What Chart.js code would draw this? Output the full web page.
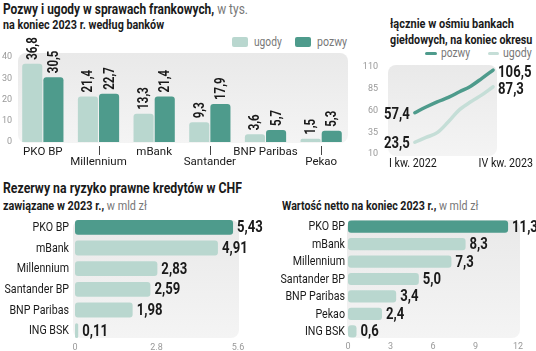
<!DOCTYPE html>
<html>
<head>
<meta charset="utf-8">
<script src="https://cdn.jsdelivr.net/npm/chart.js@4.4.1/dist/chart.umd.min.js"></script>
<style>
  body { margin: 0; width: 536px; height: 351px; background: #fff; position: relative; overflow: hidden;
         font-family: Roboto, 'DejaVu Sans', sans-serif; color: #1a1a1a; }
  .t { position: absolute; white-space: nowrap; font-weight: bold; line-height: 1; transform-origin: 0 50%; }
  .n { font-weight: normal; color: #777; }
  .lg { font-weight: normal; font-size: 12px; color: #777; }
  .sw { position: absolute; border-radius: 2px; }
  canvas { position: absolute; }
</style>
</head>
<body>
<div class="t" data-w="245" style="left:3px;top:3px;font-size:14.5px">Pozwy i ugody w sprawach frankowych,<span class="n"> w tys.</span></div>
<div class="t" data-w="161" style="left:3px;top:19px;font-size:12.5px">na koniec 2023 r. według banków</div>

<div class="sw" style="left:232px;top:37px;width:16px;height:10px;background:#b9d7cf"></div>
<div class="t lg" data-w="28" style="left:254px;top:36px">ugody</div>
<div class="sw" style="left:295px;top:37px;width:16px;height:10px;background:#4e9b8c"></div>
<div class="t lg" data-w="30" style="left:317px;top:36px">pozwy</div>

<div class="t" data-w="124" style="left:390px;top:17px;font-size:13px">łącznie w ośmiu bankach</div>
<div class="t" data-w="142" style="left:390px;top:33px;font-size:13px">giełdowych, na koniec okresu</div>
<div class="sw" style="left:425px;top:52px;width:12px;height:3px;background:#4e9b8c"></div>
<div class="t lg" data-w="29" style="left:441px;top:47px">pozwy</div>
<div class="sw" style="left:488px;top:52px;width:11px;height:3px;background:#c5ded7"></div>
<div class="t lg" data-w="29" style="left:503px;top:47px">ugody</div>

<div class="t" data-w="239" style="left:3px;top:181px;font-size:15px">Rezerwy na ryzyko prawne kredytów w CHF</div>
<div class="t" data-w="144" style="left:3px;top:200px;font-size:12.5px">zawiązane w 2023 r.,<span class="n"> w mld zł</span></div>
<div class="t" data-w="196" style="left:282px;top:200px;font-size:12.5px">Wartość netto na koniec 2023 r.,<span class="n"> w mld zł</span></div>

<canvas id="c1" width="356" height="145" style="left:0;top:30px"></canvas>
<canvas id="c2" width="180" height="130" style="left:356px;top:45px"></canvas>
<canvas id="c3" width="270" height="139" style="left:0;top:212px"></canvas>
<canvas id="c4" width="266" height="139" style="left:270px;top:212px"></canvas>

<script>
// pozwy i ugody wg banków (tys.)
const banks1 = ['PKO BP', 'Millennium', 'mBank', 'Santander', 'BNP Paribas', 'Pekao'];
const ugody = [36.8, 21.4, 13.3, 9.3, 3.6, 1.5];
const pozwy = [30.5, 22.7, 21.4, 17.9, 5.7, 5.3];
const ticks1 = [0, 10, 20, 30, 40];

// łącznie w ośmiu bankach, kwartalnie
const quarters = ['I kw. 2022', 'II kw. 2022', 'III kw. 2022', 'IV kw. 2022',
                  'I kw. 2023', 'II kw. 2023', 'III kw. 2023', 'IV kw. 2023'];
const pozwyQ = [57.4, 64, 70, 75, 81.5, 88, 97, 106.5];
const ugodyQ = [23.5, 29, 34.5, 47, 61, 70, 78, 87.3];
const ticks2 = [10, 35, 60, 85, 110];

// rezerwy 2023 (mld zł)
const banks3 = ['PKO BP', 'mBank', 'Millennium', 'Santander BP', 'BNP Paribas', 'ING BSK'];
const rezerwy = [5.43, 4.91, 2.83, 2.59, 1.98, 0.11];
const ticks3 = [0, 2.8, 5.6];

// wartość netto koniec 2023 (mld zł)
const banks4 = ['PKO BP', 'mBank', 'Millennium', 'Santander BP', 'BNP Paribas', 'Pekao', 'ING BSK'];
const netto = [11.3, 8.3, 7.3, 5.0, 3.4, 2.4, 0.6];
const ticks4 = [0, 3, 6, 9, 12];

// squeeze the titles to the widths they have in the print version
document.querySelectorAll('.t[data-w]').forEach(el => {
  el.style.transform = 'scaleX(' + (el.dataset.w / el.offsetWidth) + ')';
});

const FONT = "Roboto, 'DejaVu Sans', sans-serif";
const DARK = '#4e9b8c';
const LIGHT = '#b9d7cf';
const LIGHT_LINE = '#c5ded7';
const TXT = '#1a1a1a';
const TICK = '#999';
const SQ = 0.82; // horizontal squeeze (condensed look)

Chart.defaults.font.family = FONT;
Chart.defaults.animation = false;
Chart.defaults.plugins.legend.display = false;
Chart.defaults.plugins.tooltip.enabled = false;

const pl = (v, d) => v.toFixed(d).replace('.', ',');
const fixTicks = arr => s => { s.ticks = arr.map(v => ({ value: v })); };

function squeezed(c, txt, x, y, align, rot) {
  c.save();
  c.translate(x, y);
  if (rot) c.rotate(rot);
  c.scale(SQ, 1);
  c.textAlign = align;
  c.fillText(txt, 0, 0);
  c.restore();
}

// gray rounded plot background
const plotBg = {
  id: 'plotBg',
  beforeDatasetsDraw(chart, args, o) {
    const a = chart.chartArea, c = chart.ctx;
    const x = a.left + o.l, y = a.top + o.t;
    const w = a.right + o.r - x, h = a.bottom + o.b - y;
    const g = c.createLinearGradient(0, y, 0, y + h);
    g.addColorStop(0, '#e9e9e9');
    g.addColorStop(1, '#f4f4f4');
    c.save();
    c.fillStyle = g;
    c.beginPath();
    c.roundRect(x, y, w, h, 8);
    c.fill();
    c.restore();
  }
};

// rotated value labels over columns + small ticks for the staggered names
const colLabels = {
  id: 'colLabels',
  afterDatasetsDraw(chart) {
    const c = chart.ctx;
    c.save();
    c.font = 'bold 14px ' + FONT;
    c.fillStyle = TXT;
    c.textBaseline = 'middle';
    chart.data.datasets.forEach((ds, d) => {
      chart.getDatasetMeta(d).data.forEach((el, i) => {
        squeezed(c, pl(ds.data[i], 1), el.x + 1, el.y - 4, 'left', -Math.PI / 2);
      });
    });
    const xs = chart.scales.x, b = chart.chartArea.bottom;
    c.strokeStyle = '#444';
    c.lineWidth = 1;
    banks1.forEach((n, i) => {
      if (i % 2 === 0) return;
      const x = Math.round(xs.getPixelForValue(i)) + 0.5;
      c.beginPath();
      c.moveTo(x, b + 4);
      c.lineTo(x, b + 13);
      c.stroke();
    });
    c.restore();
  }
};

// bank names + values for the horizontal bars
const barLabels = {
  id: 'barLabels',
  afterDatasetsDraw(chart, args, o) {
    const c = chart.ctx, ds = chart.data.datasets[0], ys = chart.scales.y;
    c.save();
    c.fillStyle = TXT;
    c.textBaseline = 'middle';
    c.font = '13px ' + FONT;
    chart.data.labels.forEach((lab, i) => {
      squeezed(c, lab, ys.right - o.pad, ys.getPixelForValue(i) + 0.5, 'right');
    });
    c.font = 'bold 16px ' + FONT;
    chart.getDatasetMeta(0).data.forEach((el, i) => {
      squeezed(c, pl(ds.data[i], o.dec), el.x + 4, el.y + 1, 'left');
    });
    c.restore();
  }
};

const lineLabels = {
  id: 'lineLabels',
  afterDatasetsDraw(chart) {
    const c = chart.ctx;
    c.save();
    c.font = 'bold 16px ' + FONT;
    c.fillStyle = TXT;
    c.textBaseline = 'middle';
    chart.data.datasets.forEach((ds, d) => {
      const pts = chart.getDatasetMeta(d).data;
      const first = pts[0], last = pts[pts.length - 1];
      squeezed(c, pl(ds.data[0].y, 1), first.x - 5, first.y + 2, 'right');
      squeezed(c, pl(ds.data[ds.data.length - 1].y, 1), last.x + 5, last.y + 3, 'left');
    });
    const xs = chart.scales.x, yb = chart.chartArea.bottom + 10;
    c.font = '13px ' + FONT;
    squeezed(c, quarters[0], xs.getPixelForValue(0) - 2, yb, 'center');
    squeezed(c, quarters[quarters.length - 1], xs.getPixelForValue(quarters.length - 1) + 40, yb, 'right');
    c.restore();
  }
};

const noGrid = { display: false, drawTicks: false };
const noBorder = { display: false };

// 1. grouped columns
new Chart(document.getElementById('c1'), {
  type: 'bar',
  data: {
    labels: banks1,
    datasets: [
      { label: 'ugody', data: ugody, backgroundColor: LIGHT, borderRadius: 3 },
      { label: 'pozwy', data: pozwy, backgroundColor: DARK, borderRadius: 3 }
    ]
  },
  options: {
    responsive: false,
    categoryPercentage: 0.76,
    barPercentage: 0.95,
    layout: { padding: { top: 27, right: 7 } },
    scales: {
      x: {
        grid: noGrid, border: noBorder,
        afterFit: s => { s.height = 33; },
        ticks: {
          autoSkip: false, maxRotation: 0, color: TXT, padding: 5,
          font: { size: 11.5, lineHeight: 0.87 },
          callback: (v, i) => i % 2 ? ['', banks1[i]] : banks1[i]
        }
      },
      y: {
        min: ticks1[0], max: ticks1[ticks1.length - 1],
        grid: noGrid, border: noBorder,
        afterFit: s => { s.width = 15; },
        afterBuildTicks: fixTicks(ticks1),
        ticks: { color: TICK, padding: 3, font: { size: 9 } }
      }
    },
    plugins: { plotBg: { l: 3, t: -4, r: -1, b: 1 } }
  },
  plugins: [plotBg, colLabels]
});

// 2. lines
new Chart(document.getElementById('c2'), {
  type: 'line',
  data: {
    datasets: [
      { label: 'pozwy', data: pozwyQ.map((v, i) => ({ x: i, y: v })), borderColor: DARK },
      { label: 'ugody', data: ugodyQ.map((v, i) => ({ x: i, y: v })), borderColor: LIGHT_LINE }
    ]
  },
  options: {
    responsive: false,
    layout: { padding: { top: 22, right: 39, bottom: 21 } },
    elements: {
      line: { borderWidth: 3.5, tension: 0.35, borderCapStyle: 'round' },
      point: { radius: 0 }
    },
    scales: {
      x: { type: 'linear', min: -2.4, max: 7.35, display: false },
      y: {
        min: ticks2[0], max: ticks2[ticks2.length - 1],
        grid: noGrid, border: noBorder,
        afterFit: s => { s.width = 32; },
        afterBuildTicks: fixTicks(ticks2),
        ticks: { color: TICK, padding: 10, font: { size: 9 } }
      }
    },
    plugins: { plotBg: { l: 0, t: -2, r: 0, b: 2 } }
  },
  plugins: [plotBg, lineLabels]
});

// 3. rezerwy
new Chart(document.getElementById('c3'), {
  type: 'bar',
  data: {
    labels: banks3,
    datasets: [{
      data: rezerwy,
      backgroundColor: banks3.map((b, i) => i === 0 ? DARK : LIGHT),
      borderRadius: 3, borderSkipped: false,
      barPercentage: 0.72, categoryPercentage: 1
    }]
  },
  options: {
    responsive: false,
    indexAxis: 'y',
    layout: { padding: { top: 5, right: 32 } },
    scales: {
      x: {
        min: ticks3[0], max: ticks3[ticks3.length - 1],
        grid: noGrid, border: noBorder,
        afterFit: s => { s.height = 10; },
        afterBuildTicks: fixTicks(ticks3),
        ticks: { color: TICK, padding: 1, font: { size: 9 } }
      },
      y: {
        grid: noGrid, border: noBorder,
        afterFit: s => { s.width = 75; },
        ticks: { display: false }
      }
    },
    plugins: { plotBg: { l: -2, t: 3, r: 1, b: -3 }, barLabels: { dec: 2, pad: 6 } }
  },
  plugins: [plotBg, barLabels]
});

// 4. wartość netto
new Chart(document.getElementById('c4'), {
  type: 'bar',
  data: {
    labels: banks4,
    datasets: [{
      data: netto,
      backgroundColor: banks4.map((b, i) => i === 0 ? DARK : LIGHT),
      borderRadius: 3, borderSkipped: false,
      barPercentage: 0.7, categoryPercentage: 1
    }]
  },
  options: {
    responsive: false,
    indexAxis: 'y',
    layout: { padding: { top: 6, right: 18 } },
    scales: {
      x: {
        min: ticks4[0], max: ticks4[ticks4.length - 1],
        grid: noGrid, border: noBorder,
        afterFit: s => { s.height = 11; },
        afterBuildTicks: fixTicks(ticks4),
        ticks: { color: TICK, padding: 1, font: { size: 9 } }
      },
      y: {
        grid: noGrid, border: noBorder,
        afterFit: s => { s.width = 78; },
        ticks: { display: false }
      }
    },
    plugins: { plotBg: { l: -1, t: 2, r: 2, b: -2 }, barLabels: { dec: 1, pad: 3 } }
  },
  plugins: [plotBg, barLabels]
});
</script>
</body>
</html>
